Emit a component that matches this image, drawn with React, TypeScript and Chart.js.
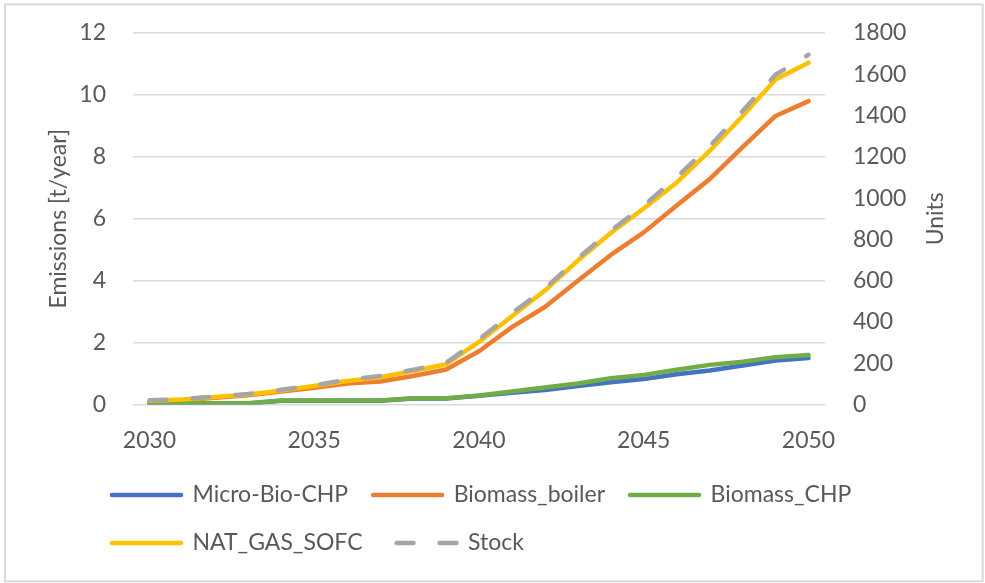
import { useEffect, useRef } from 'react';
import { Chart, registerables } from 'chart.js';

Chart.register(...registerables);

// Years on the category axis
const years = [
  '2030', '2031', '2032', '2033', '2034', '2035', '2036', '2037', '2038', '2039', '2040',
  '2041', '2042', '2043', '2044', '2045', '2046', '2047', '2048', '2049', '2050',
];

// Emissions per technology [t/year]
const microBioChp = [0.03, 0.03, 0.03, 0.03, 0.12, 0.12, 0.12, 0.12, 0.19, 0.19, 0.28, 0.38, 0.47, 0.6, 0.72, 0.82, 0.98, 1.1, 1.26, 1.42, 1.5];
const biomassBoiler = [0.1, 0.14, 0.22, 0.3, 0.42, 0.54, 0.68, 0.74, 0.92, 1.13, 1.72, 2.5, 3.15, 4.0, 4.83, 5.56, 6.43, 7.28, 8.31, 9.32, 9.8];
const biomassChp = [0.04, 0.04, 0.04, 0.04, 0.13, 0.13, 0.13, 0.13, 0.2, 0.2, 0.29, 0.42, 0.55, 0.68, 0.85, 0.95, 1.12, 1.28, 1.38, 1.53, 1.6];
const natGasSofc = [0.12, 0.16, 0.24, 0.32, 0.45, 0.6, 0.76, 0.88, 1.08, 1.3, 2.02, 2.85, 3.68, 4.65, 5.54, 6.33, 7.17, 8.19, 9.32, 10.5, 11.04];

// Installed stock [units]
const stockUnits = [20, 26, 39, 51, 71, 93, 120, 138, 168, 202, 315, 442, 562, 708, 843, 963, 1102, 1252, 1422, 1598, 1695];

const TEXT = '#595959';
const GRID = '#d9d9d9';
const FONT = 'Lato';
const SIZE = 23;

// Outer frame, rotated axis titles and the legend's left inset
const frameAndTitles = {
  id: 'frameAndTitles',
  afterLayout(chart: any) {
    if (chart.legend) chart.legend.left += 67;
  },
  beforeDraw(chart: any) {
    const ctx = chart.ctx;
    ctx.save();
    ctx.strokeStyle = GRID;
    ctx.lineWidth = 2;
    ctx.strokeRect(5, 4.3, 977.7, 577);
    ctx.restore();
  },
  afterDraw(chart: any) {
    const { ctx, chartArea } = chart;
    const cy = (chartArea.top + chartArea.bottom) / 2;
    const draw = (text: string, x: number) => {
      ctx.save();
      ctx.translate(x, cy);
      ctx.rotate(-Math.PI / 2);
      ctx.font = `${SIZE}px ${FONT}`;
      ctx.fillStyle = TEXT;
      ctx.textAlign = 'center';
      ctx.textBaseline = 'middle';
      ctx.fillText(text, 0, 0);
      ctx.restore();
    };
    draw('Emissions [t/year]', 59);
    draw('Units', 935.5);
  },
};

function line(label: string, data: number[], color: string, order: number, extra: any = {}) {
  return {
    label,
    data,
    borderColor: color,
    backgroundColor: color,
    borderWidth: 4.5,
    pointRadius: 0,
    tension: 0,
    borderCapStyle: 'round',
    borderJoinStyle: 'round',
    yAxisID: 'y',
    order,
    ...extra,
  };
}

// fixed width for a value axis, without extra vertical padding
const fixWidth = (w: number) => (s: any) => {
  s.width = w;
  s.paddingTop = 0;
  s.paddingBottom = 0;
};

export default function App() {
  const ref = useRef<HTMLCanvasElement>(null);

  useEffect(() => {
    if (!ref.current) return;
    const chart = new Chart(ref.current, {
      type: 'line',
      data: {
        labels: years,
        datasets: [
          line('Micro-Bio-CHP', microBioChp, '#4472C4', 4),
          line('Biomass_boiler', biomassBoiler, '#ED7D31', 3),
          line('Biomass_CHP', biomassChp, '#70AD47', 2),
          line('NAT_GAS_SOFC', natGasSofc, '#FFC000', 1),
          line('Stock', stockUnits, '#A5A5A5', 0, { yAxisID: 'y1', borderDash: [17, 26] }),
        ],
      } as any,
      options: {
        responsive: false,
        animation: false,
        events: [],
        layout: { padding: { left: 20, right: 0, top: 33, bottom: 18.5 } },
        font: { family: FONT, size: SIZE },
        scales: {
          x: {
            type: 'category',
            offset: true,
            grid: { display: false, drawTicks: false },
            border: { display: false },
            ticks: {
              autoSkip: false,
              maxRotation: 0,
              minRotation: 0,
              padding: 22,
              color: TEXT,
              font: { family: FONT, size: SIZE },
              callback: (_v: any, i: number) => (i % 5 === 0 ? years[i] : ''),
            },
            afterFit: (s: any) => { s.height = 54; },
          },
          y: {
            position: 'left',
            min: 0,
            max: 12,
            grid: { color: GRID, lineWidth: 1.5, drawTicks: false },
            border: { display: false },
            ticks: { stepSize: 2, padding: 27, color: TEXT, font: { family: FONT, size: SIZE } },
            afterFit: fixWidth(113),
          },
          y1: {
            position: 'right',
            min: 0,
            max: 1800,
            grid: { display: false, drawTicks: false },
            border: { display: false },
            ticks: {
              stepSize: 200,
              padding: 28,
              color: TEXT,
              font: { family: FONT, size: SIZE },
              callback: (v: any) => String(v),
            },
            afterFit: fixWidth(160),
          },
        },
        plugins: {
          tooltip: { enabled: false },
          legend: {
            position: 'bottom',
            align: 'start',
            labels: {
              color: TEXT,
              font: { family: FONT, size: SIZE },
              padding: 25,
              usePointStyle: true,
              pointStyle: 'line',
              pointStyleWidth: 69,
              generateLabels: (c: any) => {
                const base = (Chart as any).defaults.plugins.legend.labels.generateLabels(c);
                return base
                  .map((it: any) => {
                    const ds = c.data.datasets[it.datasetIndex];
                    return {
                      ...it,
                      strokeStyle: ds.borderColor,
                      fillStyle: ds.borderColor,
                      lineWidth: 4.5,
                      lineCap: 'round',
                      lineDash: ds.borderDash || [],
                      lineDashOffset: ds.borderDash ? 34 : 0,
                      pointStyle: 'line',
                    };
                  })
                  .sort((a: any, b: any) => a.datasetIndex - b.datasetIndex);
              },
            },
          },
        },
      } as any,
      plugins: [frameAndTitles],
    });
    return () => chart.destroy();
  }, []);

  return (
    <div style={{ position: 'absolute', left: 0, top: 0, width: 985, height: 583, background: '#fff' }}>
      <canvas ref={ref} width={985} height={583} style={{ display: 'block' }} />
    </div>
  );
}
